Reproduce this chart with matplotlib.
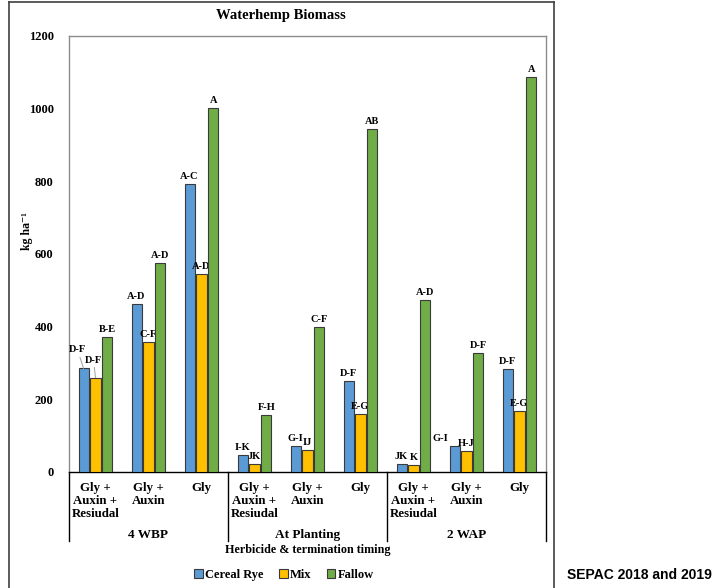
import numpy as np
import matplotlib
matplotlib.use("Agg")
import matplotlib.pyplot as plt
from matplotlib.patches import Patch
from matplotlib.lines import Line2D

plt.rcParams['font.family'] = ['Liberation Serif', 'DejaVu Serif']
plt.rcParams['font.weight'] = 'bold'

timings = ["4 WBP", "At Planting", "2 WAP"]
programs = ["Gly +\nAuxin +\nResiudal", "Gly +\nAuxin", "Gly"]
series = ["Cereal Rye", "Mix", "Fallow"]
colors = ["#5B9BD5", "#FFC000", "#70AD47"]

rye = [285, 462, 793, 46, 72, 250, 22, 71, 283]
mix = [260, 359, 544, 22, 60, 161, 20, 58, 167]
fallow = [372, 574, 1003, 158, 400, 943, 474, 328, 1087]

rye_let = ["D-F", "A-D", "A-C", "I-K", "G-I", "D-F", "JK", "G-I", "D-F"]
mix_let = ["D-F", "C-F", "A-D", "JK", "IJ", "E-G", "K", "H-J", "E-G"]
fallow_let = ["B-E", "A-D", "A", "F-H", "C-F", "AB", "A-D", "D-F", "A"]

W, H = 712, 588
fig = plt.figure(figsize=(W / 100, H / 100), dpi=100)
ax = fig.add_axes([69 / W, 1 - 472 / H, (546 - 69) / W, (472 - 36) / H])

# outer chart frame (open at the bottom)
fx0, fx1, fy = 9 / W, 554 / W, 1 - 2 / H
for xs, ys in [([fx0, fx1], [fy, fy]), ([fx0, fx0], [fy, -0.1]), ([fx1, fx1], [fy, -0.1])]:
    fig.add_artist(Line2D(xs, ys, transform=fig.transFigure, color="#404040", lw=1.2))

x = np.arange(len(rye))
bw = 0.19
step = 0.225
all_vals = [rye, mix, fallow]
all_lets = [rye_let, mix_let, fallow_let]
for i, (vals, lets) in enumerate(zip(all_vals, all_lets)):
    xs = x + (i - 1) * step
    ax.bar(xs, vals, bw, color=colors[i], edgecolor="#3a3a3a", linewidth=0.8, zorder=3)
    for j, (xx, v, t) in enumerate(zip(xs, vals, lets)):
        dx, dy = 0, 3
        line = False
        if i == 0 and j == 0:
            dx, dy, line = -6, 14, True
        elif i == 1 and j == 0:
            dx, dy, line = -2, 13, True
        elif i == 0 and j == 7:
            dx, dy = -14, 3
        kw = {}
        if line:
            kw["arrowprops"] = dict(arrowstyle="-", color="#a0a0a0", lw=0.7,
                                    shrinkA=0, shrinkB=0)
        ax.annotate(t, xy=(xx, v), xytext=(dx * 0.72, dy * 0.72),
                    textcoords="offset points", ha="center", va="bottom",
                    fontsize=7.5, fontweight="bold", **kw)

ax.set_xlim(-0.5, 8.5)
ax.set_ylim(0, 1200)
ax.set_yticks(np.arange(0, 1201, 200))
ax.tick_params(axis="y", length=0, pad=11, labelsize=9)
ax.set_xticks([])
for s in ["left", "top", "right"]:
    ax.spines[s].set_color("#8c8c8c")
    ax.spines[s].set_linewidth(1.0)
ax.spines["bottom"].set_color("black")
ax.spines["bottom"].set_linewidth(1.0)

# two-level category axis
trans = ax.get_xaxis_transform()
for j in range(len(rye)):
    ax.text(x[j], -0.022, programs[j % 3], transform=trans, ha="center", va="top",
            fontsize=9.3, fontweight="bold", linespacing=1.13)
for g, name in enumerate(timings):
    ax.text(g * 3 + 1, -0.145, name, transform=trans, ha="center", va="center",
            fontsize=9.5, fontweight="bold")
for sx in [-0.5, 2.5, 5.5, 8.5]:
    ax.plot([sx, sx], [0, -0.158], transform=trans, color="black", lw=1.0, clip_on=False)

fig.text(308 / W, 1 - 550 / H, "Herbicide & termination timing", ha="center",
         va="center", fontsize=8.7, fontweight="bold")
fig.text(281 / W, 1 - 15 / H, "Waterhemp Biomass", ha="center", va="center",
         fontsize=10.5, fontweight="bold")
fig.text(27 / W, 1 - 231 / H, "kg ha\u207b\u00b9", rotation=90, ha="center",
         va="center", fontsize=8.5, fontweight="bold")

handles = [Patch(facecolor=c, edgecolor="#3a3a3a", lw=0.8) for c in colors]
fig.legend(handles, series, loc="center", bbox_to_anchor=(284 / W, 1 - 575 / H),
           ncol=3, frameon=False, handlelength=0.7, handleheight=0.7,
           handletextpad=0.2, columnspacing=1.2, prop={"weight": "bold", "size": 9})

fig.text(712 / W, 1 - 575 / H, "SEPAC 2018 and 2019", ha="right", va="center",
         fontsize=10, fontweight="bold", family=["Liberation Sans", "DejaVu Sans"])

fig.savefig("out.png", dpi=100)
